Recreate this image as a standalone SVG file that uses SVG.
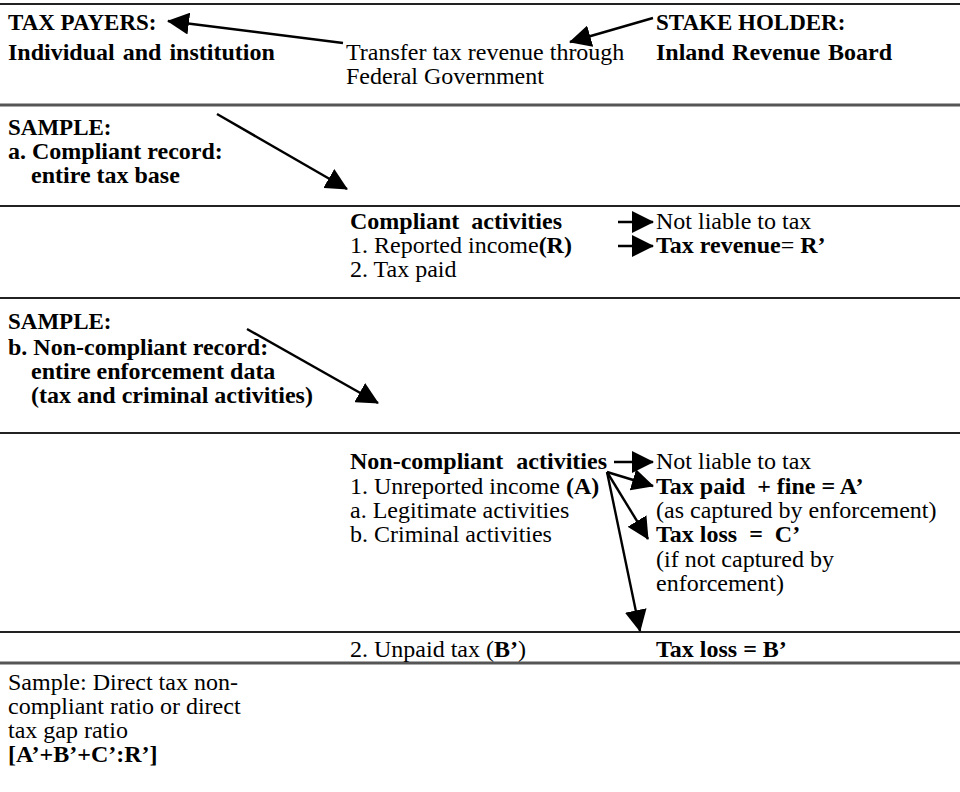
<svg xmlns="http://www.w3.org/2000/svg" width="960" height="792" viewBox="0 0 960 792">
<style>
text{font-family:"Liberation Serif","Times New Roman",serif;font-size:24px;fill:#000}
.b{font-weight:bold}
.caps{font-size:23px}
.rule{stroke:#222;stroke-width:2}
.rule2{stroke:#555;stroke-width:3}
.conn line{stroke:#000;stroke-width:2.4;fill:none}
</style>
<defs>
<marker id="ah" markerUnits="userSpaceOnUse" markerWidth="22" markerHeight="22" refX="21" refY="11" orient="auto" viewBox="0 0 22 22">
<path d="M0,0 L22,11 L0,22 z" fill="#000"/>
</marker>
</defs>
<rect width="960" height="792" fill="#fff"/>
<g id="rules">
<line class="rule" x1="0" y1="4" x2="960" y2="4"/>
<line class="rule2" x1="0" y1="105" x2="960" y2="105"/>
<line class="rule" x1="0" y1="206" x2="960" y2="206"/>
<line class="rule" x1="0" y1="298" x2="960" y2="298"/>
<line class="rule" x1="0" y1="433" x2="960" y2="433"/>
<line class="rule" x1="0" y1="632" x2="960" y2="632"/>
<line class="rule2" x1="0" y1="663" x2="960" y2="663"/>
</g>
<g id="taxpayers"><text class="b caps" x="8" y="30">TAX PAYERS:</text><text class="b" x="8" y="60" word-spacing="2">Individual and institution</text></g>
<g id="transfer"><text x="346" y="60">Transfer tax revenue through</text><text x="346" y="84">Federal Government</text></g>
<g id="stakeholder"><text class="b caps" x="656" y="30">STAKE HOLDER:</text><text class="b" x="656" y="60" word-spacing="2">Inland Revenue Board</text></g>
<g id="sample-a"><text class="b caps" x="8" y="135">SAMPLE:</text><text class="b" x="8" y="159">a. Compliant record:</text><text class="b" x="31" y="183">entire tax base</text></g>
<g id="compliant"><text class="b" x="350" y="229" word-spacing="6">Compliant activities</text><text x="350" y="253">1. Reported income<tspan class="b">(R)</tspan></text><text x="350" y="277">2. Tax paid</text></g>
<g id="not-liable-1"><text x="656" y="229">Not liable to tax</text></g>
<g id="tax-revenue"><text x="656" y="253"><tspan class="b">Tax revenue</tspan>= <tspan class="b">R’</tspan></text></g>
<g id="sample-b"><text class="b caps" x="8" y="329">SAMPLE:</text><text class="b" x="8" y="355">b. Non-compliant record:</text><text class="b" x="31" y="379">entire enforcement data</text><text class="b" x="31" y="403">(tax and criminal activities)</text></g>
<g id="noncompliant"><text class="b" x="350" y="469" word-spacing="7">Non-compliant activities</text><text x="350" y="494">1. Unreported income <tspan class="b">(A)</tspan></text><text x="350" y="518">a. Legitimate activities</text><text x="350" y="542">b. Criminal activities</text></g>
<g id="not-liable-2"><text x="656" y="469">Not liable to tax</text></g>
<g id="tax-paid-fine"><text x="656" y="494"><tspan class="b" xml:space="preserve">Tax paid  + fine = A’</tspan></text><text x="656" y="518">(as captured by enforcement)</text></g>
<g id="tax-loss-c"><text x="656" y="542"><tspan class="b" xml:space="preserve">Tax loss  =  C’</tspan></text><text x="656" y="567">(if not captured by</text><text x="656" y="591">enforcement)</text></g>
<g id="unpaid"><text x="350" y="657">2. Unpaid tax (<tspan class="b">B’</tspan>)</text></g>
<g id="tax-loss-b"><text class="b" x="656" y="657">Tax loss = B’</text></g>
<g id="ratio"><text x="8" y="690">Sample: Direct tax non-</text><text x="8" y="714">compliant ratio or direct</text><text x="8" y="738">tax gap ratio</text><text class="b" x="8" y="762">[A’+B’+C’:R’]</text></g>
<g id="connectors" class="conn">
<line x1="343" y1="43" x2="168" y2="21" marker-end="url(#ah)"/>
<line x1="653" y1="18" x2="570" y2="42" marker-end="url(#ah)"/>
<line x1="217" y1="114" x2="347" y2="189" marker-end="url(#ah)"/>
<line x1="247" y1="329" x2="378" y2="403" marker-end="url(#ah)"/>
<line x1="618" y1="222" x2="653" y2="222" marker-end="url(#ah)"/>
<line x1="618" y1="246" x2="653" y2="246" marker-end="url(#ah)"/>
<line x1="614" y1="462" x2="653" y2="462" marker-end="url(#ah)"/>
<line x1="607" y1="472" x2="653" y2="486" marker-end="url(#ah)"/>
<line x1="607" y1="472" x2="648" y2="539" marker-end="url(#ah)"/>
<line x1="607" y1="472" x2="640" y2="631" marker-end="url(#ah)"/>
</g>
</svg>
